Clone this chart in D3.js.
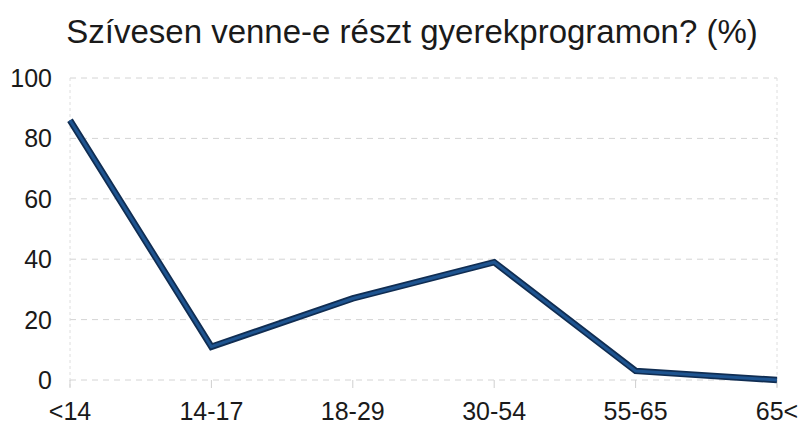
<!DOCTYPE html>
<html>
<head>
<meta charset="utf-8">
<script src="https://cdn.jsdelivr.net/npm/d3@7"></script>
<style>
  body { margin: 0; background: #fff; }
  text { font-family: "Liberation Sans", Arial, sans-serif; fill: #1a1a1a; }
</style>
</head>
<body>
<div id="chart"></div>
<script>
const categories = ["<14", "14-17", "18-29", "30-54", "55-65", "65<"];
const values = [86, 11, 27, 39, 3, 0];
const yTicks = [0, 20, 40, 60, 80, 100];
const title = "Szívesen venne-e részt gyerekprogramon? (%)";

const width = 803, height = 428;
const margin = { top: 78, right: 26, bottom: 48, left: 70 };

const svg = d3.select("#chart").append("svg")
    .attr("width", width)
    .attr("height", height);

const x = d3.scalePoint()
    .domain(categories)
    .range([margin.left, width - margin.right]);

const y = d3.scaleLinear()
    .domain([0, 100])
    .range([height - margin.bottom, margin.top]);

// title
svg.append("text")
    .attr("x", 412)
    .attr("y", 43)
    .attr("text-anchor", "middle")
    .style("font-size", "33px")
    .text(title);

// horizontal grid
svg.append("g")
    .selectAll("line")
    .data(yTicks)
    .join("line")
    .attr("x1", margin.left)
    .attr("x2", width - margin.right)
    .attr("y1", d => y(d))
    .attr("y2", d => y(d))
    .style("stroke", "#d4d4d4")
    .style("stroke-width", 1)
    .style("stroke-dasharray", "6,5");

// side borders
svg.append("g")
    .selectAll("line")
    .data([margin.left, width - margin.right])
    .join("line")
    .attr("x1", d => d)
    .attr("x2", d => d)
    .attr("y1", y(100))
    .attr("y2", y(0) + 8)
    .style("stroke", "#dedede")
    .style("stroke-dasharray", "3,3");

// y labels
svg.append("g")
    .selectAll("text")
    .data(yTicks)
    .join("text")
    .attr("x", 52)
    .attr("y", d => y(d) + 9)
    .attr("text-anchor", "end")
    .style("font-size", "25px")
    .text(d => d);

// x ticks and labels
const xg = svg.append("g");
xg.selectAll("line")
    .data(categories)
    .join("line")
    .attr("x1", d => x(d))
    .attr("x2", d => x(d))
    .attr("y1", y(0))
    .attr("y2", y(0) + 8)
    .style("stroke", "#cfcfcf");

xg.selectAll("text")
    .data(categories)
    .join("text")
    .attr("x", d => x(d))
    .attr("y", 420)
    .attr("text-anchor", "middle")
    .style("font-size", "25px")
    .text(d => d);

// line
const line = d3.line()
    .x((d, i) => x(categories[i]))
    .y(d => y(d));

svg.append("path")
    .datum(values)
    .attr("d", line)
    .style("fill", "none")
    .style("stroke", "#102d52")
    .style("stroke-width", 6.5)
    .style("stroke-linejoin", "miter");

svg.append("path")
    .datum(values)
    .attr("d", line)
    .style("fill", "none")
    .style("stroke", "#1e5490")
    .style("stroke-width", 3)
    .style("stroke-linejoin", "miter");
</script>
</body>
</html>
